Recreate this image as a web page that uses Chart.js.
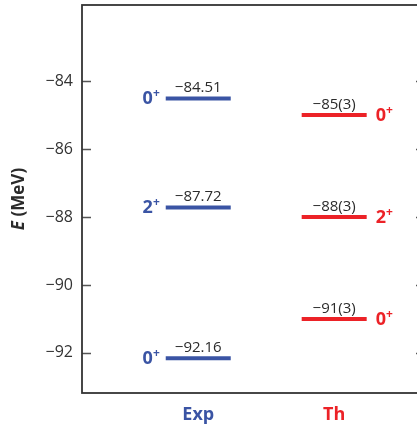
<!DOCTYPE html>
<html>
<head>
<meta charset="utf-8">
<script src="https://cdn.jsdelivr.net/npm/chart.js@4.4.0/dist/chart.umd.min.js"></script>
<style>
  html, body { margin: 0; padding: 0; background: #fff; overflow: hidden; }
  #wrap { width: 430px; height: 428px; }
</style>
</head>
<body>
<div id="wrap"><canvas id="levels"></canvas></div>
<script>
const columns = ["Exp", "Th"];
const expEnergies = [-84.51, -87.72, -92.16];
const expSpins = ["0", "2", "0"];
const thEnergies = [-85, -88, -91];
const thErrors = [3, 3, 3];
const thSpins = ["0", "2", "0"];
const yTicks = [-92, -90, -88, -86, -84];

const BLUE = "#3a54a4";
const RED = "#ec2227";
const INK = "#2b2b2b";
const FONT = "'Open Sans', sans-serif";
const columnColors = [BLUE, RED];

// real minus sign instead of hyphen
const minus = (s) => String(s).replace("-", "\u2212");

function levelSet(col, energies, texts, spins, side) {
  const color = columnColors[col];
  return {
    label: columns[col],
    data: energies.map((y) => ({ x: col, y })),
    texts,
    spins,
    side,
    pointStyle: "line",
    pointRadius: 32.5,
    pointHoverRadius: 32.5,
    pointBorderWidth: 4,
    pointBorderColor: color,
    borderColor: color,
    showLine: false,
  };
}

const datasets = [
  levelSet(0, expEnergies, expEnergies.map((v) => minus(v.toFixed(2))), expSpins, "left"),
  levelSet(1, thEnergies, thEnergies.map((v, i) => minus(v) + "(" + thErrors[i] + ")"), thSpins, "right"),
];

// energy value above each level, spin/parity beside it
const levelLabels = {
  id: "levelLabels",
  afterDatasetsDraw(chart) {
    const ctx = chart.ctx;
    chart.data.datasets.forEach((ds, di) => {
      chart.getDatasetMeta(di).data.forEach((pt, i) => {
        const r = pt.options.radius;
        ctx.save();
        ctx.fillStyle = INK;
        ctx.font = `15px ${FONT}`;
        ctx.textAlign = "center";
        ctx.textBaseline = "alphabetic";
        ctx.fillText(ds.texts[i], pt.x, pt.y - 6);

        ctx.fillStyle = ds.borderColor;
        ctx.textAlign = "left";
        ctx.font = `bold 18px ${FONT}`;
        const spinW = ctx.measureText(ds.spins[i]).width;
        ctx.font = `bold 12px ${FONT}`;
        const plusW = ctx.measureText("+").width;
        const x0 = ds.side === "left" ? pt.x - r - 6 - spinW - plusW : pt.x + r + 9;
        ctx.font = `bold 18px ${FONT}`;
        ctx.fillText(ds.spins[i], x0, pt.y + 6);
        ctx.font = `bold 12px ${FONT}`;
        ctx.fillText("+", x0 + spinW, pt.y - 1);
        ctx.restore();
      });
    });
  },
};

// frame, inward ticks on both sides, y title
const frame = {
  id: "frame",
  afterDraw(chart) {
    const ctx = chart.ctx;
    const a = chart.chartArea;
    const ys = chart.scales.y;
    ctx.save();
    ctx.strokeStyle = "#555";
    ctx.lineWidth = 1.5;
    yTicks.forEach((v) => {
      const py = Math.round(ys.getPixelForValue(v)) + 0.5;
      ctx.beginPath();
      ctx.moveTo(a.left, py);
      ctx.lineTo(a.left + 9, py);
      ctx.moveTo(a.right - 9, py);
      ctx.lineTo(a.right, py);
      ctx.stroke();
    });
    ctx.strokeStyle = "#333";
    ctx.lineWidth = 1.8;
    ctx.strokeRect(a.left, a.top, a.right - a.left, a.bottom - a.top);

    ctx.translate(19, (a.top + a.bottom) / 2);
    ctx.rotate(-Math.PI / 2);
    ctx.fillStyle = INK;
    ctx.textBaseline = "middle";
    ctx.textAlign = "left";
    const fE = `italic bold 17px ${FONT}`;
    const fU = `bold 17px ${FONT}`;
    ctx.font = fE;
    const wE = ctx.measureText("E").width;
    ctx.font = fU;
    const wU = ctx.measureText(" (MeV)").width;
    const x0 = -(wE + wU) / 2;
    ctx.font = fE;
    ctx.fillText("E", x0, 0);
    ctx.font = fU;
    ctx.fillText(" (MeV)", x0 + wE, 0);
    ctx.restore();
  },
};

new Chart(document.getElementById("levels"), {
  type: "scatter",
  data: { datasets },
  options: {
    responsive: true,
    maintainAspectRatio: false,
    animation: false,
    events: [],
    layout: { autoPadding: false, padding: { top: 5, right: 5, left: 0, bottom: 0 } },
    plugins: { legend: { display: false }, tooltip: { enabled: false } },
    scales: {
      x: {
        type: "linear",
        min: -0.855,
        max: 1.668,
        afterBuildTicks: (s) => { s.ticks = columns.map((_, i) => ({ value: i })); },
        afterFit: (s) => { s.height = 35; s.paddingLeft = 0; s.paddingRight = 0; },
        grid: { display: false, drawTicks: false },
        border: { display: false },
        ticks: {
          callback: (v) => columns[v],
          color: (c) => columnColors[c.index],
          font: { family: FONT, size: 18, weight: "bold" },
          padding: 11,
          autoSkip: false,
          maxRotation: 0,
        },
      },
      y: {
        min: -93.18,
        max: -81.76,
        afterBuildTicks: (s) => { s.ticks = yTicks.map((v) => ({ value: v })); },
        afterFit: (s) => { s.width = 82; s.paddingTop = 0; s.paddingBottom = 0; },
        grid: { display: false, drawTicks: false },
        border: { display: false },
        ticks: {
          callback: (v) => minus(v),
          color: "#333",
          font: { family: FONT, size: 16 },
          padding: 9,
        },
      },
    },
  },
  plugins: [levelLabels, frame],
});
</script>
</body>
</html>
